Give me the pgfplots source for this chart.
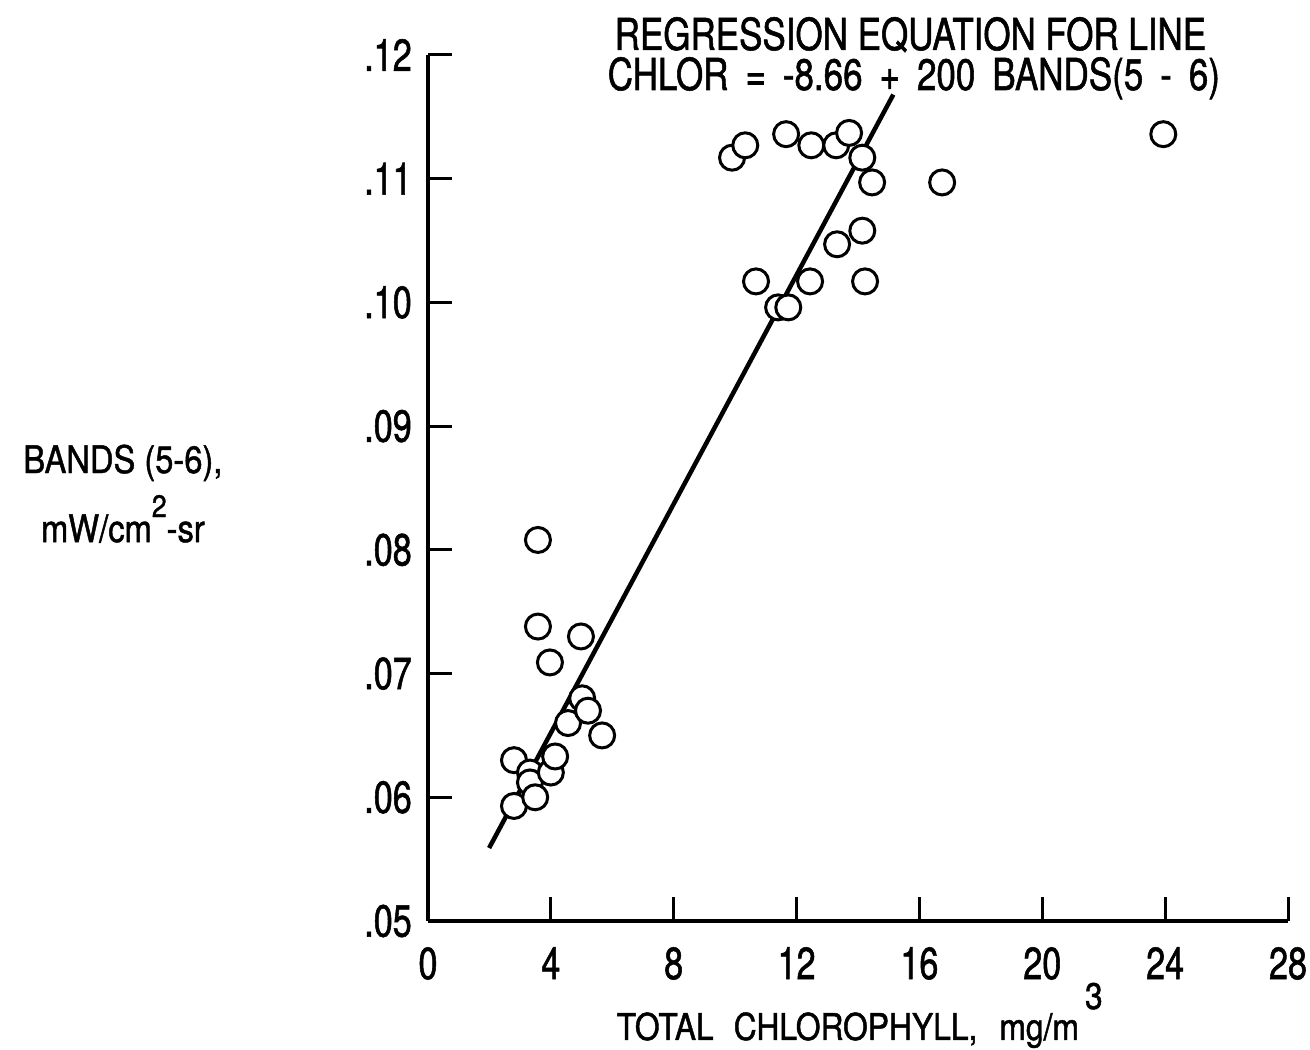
\documentclass[border=0pt]{standalone}
\usepackage{pgfplots}
\pgfplotsset{compat=1.18}
\usepackage{fontspec}
\setmainfont{TeX Gyre Heros}[FakeStretch=0.86, FakeBold=1.2]
\newfontfamily\tickfont{TeX Gyre Heros}[FakeStretch=0.76, FakeBold=1.2]
\newfontfamily\titlefont{TeX Gyre Heros}[FakeStretch=0.795, FakeBold=1.2]
\newcommand{\wsp}{\hspace{17pt}}
\begin{document}
\begin{tikzpicture}
\begin{axis}[
  scale only axis,
  width=860pt, height=866pt,
  xmin=0, xmax=28, ymin=0.05, ymax=0.12,
  axis lines=left,
  axis line style={line width=3.5pt, -},
  xtick={0,4,8,12,16,20,24,28},
  xticklabels={0,4,8,12,16,20,24,28},
  ytick={0.05,0.06,0.07,0.08,0.09,0.10,0.11,0.12},
  yticklabels={.05,.06,.07,.08,.09,.10,.11,.12},
  tick align=inside,
  major tick length=24pt,
  tick style={line width=3pt, black},
  /pgf/number format/assume math mode=true,
  xticklabel style={font=\tickfont\fontsize{45}{45}\selectfont, anchor=north, inner sep=0pt, yshift=-26pt},
  yticklabel style={font=\tickfont\fontsize{45}{45}\selectfont, anchor=east, inner sep=0pt, xshift=-16pt},
  clip=false,
]
\addplot[line width=4.5pt, black] coordinates {(1.99,0.0559) (15.15,0.1168)};
\addplot[only marks, mark=*, mark size=12.5pt, mark options={fill=white, draw=black, line width=3pt}] coordinates {
(2.80,0.0593) (2.80,0.0630) (3.32,0.0620) (3.32,0.0612) (3.49,0.0600)
(4.00,0.0620) (4.14,0.0633) (4.56,0.0660) (5.02,0.0680) (5.21,0.0670)
(5.67,0.0650) (4.98,0.0730) (3.97,0.0709) (3.58,0.0738) (3.58,0.0808)
(9.90,0.1117) (10.33,0.1127) (11.66,0.1136) (12.48,0.1127) (13.29,0.1127)
(13.71,0.1137) (14.14,0.1117) (14.46,0.1097) (16.74,0.1097) (23.94,0.1136)
(13.32,0.1047) (14.14,0.1058) (14.23,0.1017) (10.68,0.1017) (12.44,0.1017)
(11.40,0.0996) (11.73,0.0996)
};
\node[font=\fontsize{37}{37}\selectfont, anchor=base, inner sep=0pt] at (axis description cs:0.502,-0.1374) {TOTAL\hspace{20pt}CHLOROPHYLL,\hspace{22pt}mg/m\hspace{6pt}\raisebox{31pt}{3}};
\node[font=\fontsize{38}{38}\selectfont, anchor=base, inner sep=0pt] at (axis description cs:-0.3547,0.5173) {BANDS (5-6),};
\node[font=\fontsize{38}{38}\selectfont, anchor=base, inner sep=0pt] at (axis description cs:-0.3547,0.4376) {mW/cm\raisebox{25pt}{\fontsize{31}{31}\selectfont 2}-sr};
\node[font=\titlefont\fontsize{44}{44}\selectfont, anchor=base, inner sep=0pt] at (axis description cs:0.561,1.0058) {REGRESSION EQUATION FOR LINE};
\node[font=\titlefont\fontsize{44}{44}\selectfont, anchor=base, inner sep=0pt] at (axis description cs:0.565,0.9596) {CHLOR\wsp=\wsp-8.66\wsp+\wsp200\wsp BANDS(5\wsp-\wsp6)};
\end{axis}
\path (-428pt,-129pt) rectangle (882pt,921pt);
\end{tikzpicture}
\end{document}
